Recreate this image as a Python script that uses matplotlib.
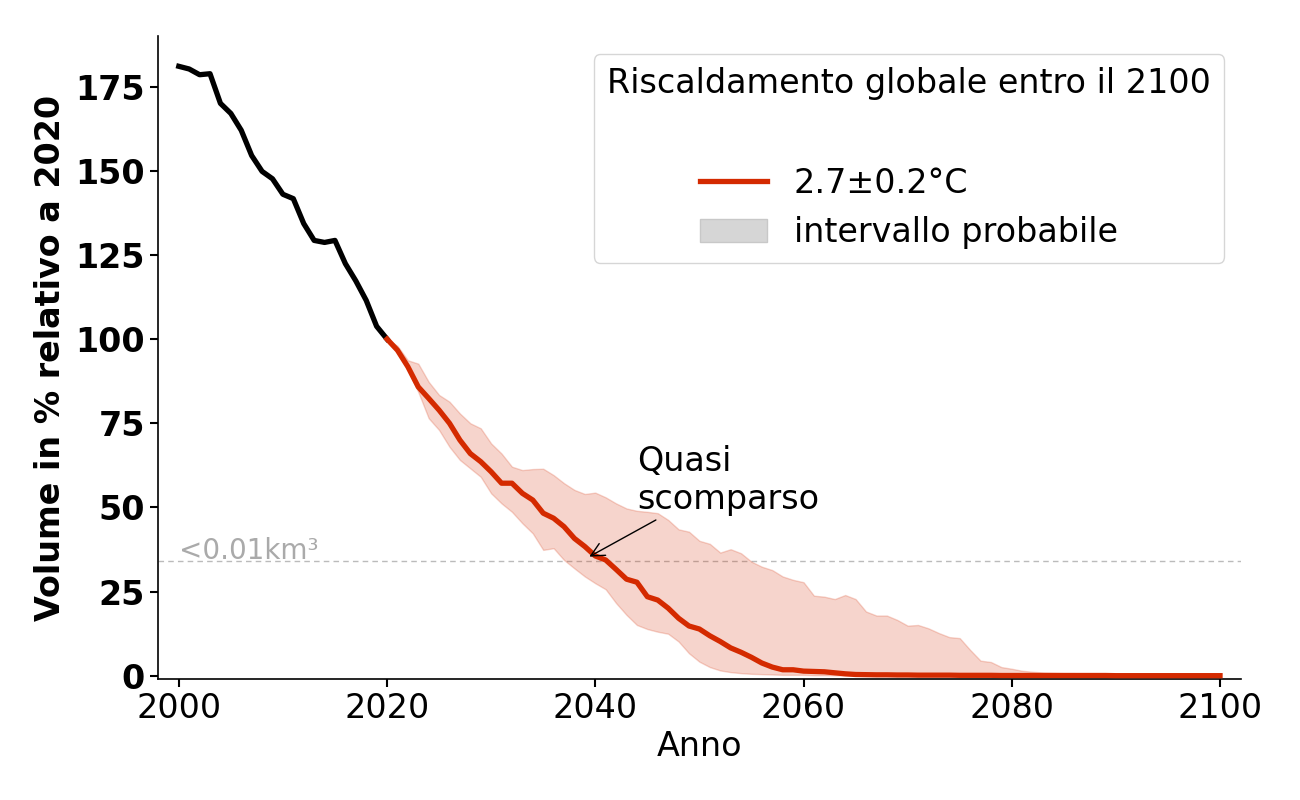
import numpy as np
import matplotlib.pyplot as plt
from matplotlib.lines import Line2D
from matplotlib.patches import Patch

# observed volume, 2000-2020
obs_years = np.arange(2000, 2021)
obs_vol = [181.0, 180.2, 178.5, 178.8, 170.0, 167.0, 162.0, 154.5, 149.8, 147.6,
           143.0, 141.7, 134.3, 129.3, 128.7, 129.3, 122.4, 117.3, 111.5, 103.8, 100.0]

# projection 2020-2100 (median and likely range)
proj_years = np.arange(2020, 2101)
proj_mid = [100.0, 96.7, 91.8, 85.8, 82.4, 78.9, 75.0, 70.0, 66.0, 63.6,
            60.6, 57.2, 57.2, 54.2, 52.2, 48.3, 46.8, 44.3, 40.8, 38.4,
            35.6, 34.4, 31.6, 28.7, 27.8, 23.5, 22.5, 20.1, 17.1, 14.8,
            13.9, 11.9, 10.2, 8.3, 7.0, 5.5, 3.8, 2.6, 1.8, 1.8,
            1.4, 1.3, 1.2, 0.9, 0.6, 0.4, 0.35, 0.3, 0.3, 0.25,
            0.25, 0.2, 0.2, 0.2, 0.2, 0.15, 0.15, 0.15, 0.15, 0.1,
            0.1, 0.1, 0.1, 0.1, 0.1, 0.1, 0.1, 0.1, 0.1, 0.1,
            0.05, 0.05, 0.05, 0.05, 0.05, 0.05, 0.05, 0.05, 0.05, 0.05, 0.05]
proj_hi = [100.0, 98.0, 93.7, 92.7, 87.3, 83.4, 81.4, 77.9, 75.0, 73.5,
           69.0, 66.0, 62.1, 61.1, 61.4, 61.5, 59.6, 57.2, 55.2, 54.0,
           54.4, 53.0, 51.2, 49.7, 49.0, 48.7, 48.3, 46.3, 43.5, 42.8,
           40.1, 39.2, 36.6, 37.6, 36.4, 33.9, 32.4, 31.4, 29.5, 28.5,
           27.8, 23.8, 23.5, 22.8, 24.0, 22.8, 19.1, 17.9, 17.9, 16.6,
           14.9, 15.1, 14.1, 12.7, 11.5, 11.2, 7.7, 4.5, 4.1, 2.6,
           2.1, 1.5, 1.2, 1.0, 0.9, 0.8, 0.8, 0.6, 0.5, 0.4,
           0.3, 0.3, 0.25, 0.2, 0.2, 0.2, 0.15, 0.15, 0.1, 0.1, 0.1]
proj_lo = [100.0, 96.0, 90.8, 84.3, 76.5, 73.0, 68.0, 64.1, 61.6, 59.1,
           54.2, 51.2, 48.7, 45.3, 42.3, 37.4, 37.9, 34.4, 31.9, 29.5,
           27.5, 25.7, 21.6, 18.1, 15.1, 13.9, 13.1, 12.5, 10.2, 6.7,
           4.2, 2.6, 1.6, 1.1, 0.8, 0.6, 0.5, 0.4, 0.3, 0.3,
           0.3, 0.2, 0.2, 0.15, 0.1, 0.1, 0.1, 0.05, 0.05, 0.05,
           0.0, 0.0, 0.0, 0.0, 0.0, 0.0, 0.0, 0.0, 0.0, 0.0,
           0.0, 0.0, 0.0, 0.0, 0.0, 0.0, 0.0, 0.0, 0.0, 0.0,
           0.0, 0.0, 0.0, 0.0, 0.0, 0.0, 0.0, 0.0, 0.0, 0.0, 0.0]

threshold = 34.1  # <0.01 km3
red = '#d42a00'

fig = plt.figure(figsize=(13, 8), dpi=100)
ax = fig.add_axes([0.1215, 0.151, 0.833, 0.804])

ax.axhline(threshold, color='#bbbbbb', lw=1, ls='--', dashes=(4, 3), zorder=1)
ax.text(2000, threshold + 0.6, '<0.01km³', color='#aaaaaa', fontsize=20,
        va='baseline', ha='left')

ax.fill_between(proj_years, proj_lo, proj_hi, color=red, alpha=0.2, lw=1, zorder=2)
ax.plot(obs_years, obs_vol, color='black', lw=3.8, zorder=3)
ax.plot(proj_years, proj_mid, color=red, lw=3.8, zorder=3)

ax.annotate('Quasi\nscomparso', xy=(2039.2, 35.0), xytext=(2044, 47.5),
            fontsize=24, ha='left', va='bottom',
            arrowprops=dict(arrowstyle='->', color='black', lw=1))

ax.set_xlim(1998, 2102)
ax.set_ylim(-1, 190)
ax.set_xticks([2000, 2020, 2040, 2060, 2080, 2100])
ax.set_yticks([0, 25, 50, 75, 100, 125, 150, 175])
ax.tick_params(labelsize=24, length=6, width=1.5)
for lab in ax.get_yticklabels():
    lab.set_fontweight('bold')
ax.spines['top'].set_visible(False)
ax.spines['right'].set_visible(False)
ax.spines['left'].set_linewidth(1.2)
ax.spines['bottom'].set_linewidth(1.2)
ax.set_xlabel('Anno', fontsize=24, labelpad=3)
ax.set_ylabel('Volume in % relativo a 2020', fontsize=24, fontweight='bold', labelpad=6)

handles = [Line2D([], [], color='none', label=' '),
           Line2D([], [], color=red, lw=3.8, label='2.7±0.2°C'),
           Patch(facecolor='#d6d6d6', edgecolor='#c8c8c8', label='intervallo probabile')]
leg = ax.legend(handles=handles, loc='upper right', fontsize=24,
                title='Riscaldamento globale entro il 2100', title_fontsize=24,
                bbox_to_anchor=(1.0, 0.998))

fig.savefig('out.png', dpi=100)
